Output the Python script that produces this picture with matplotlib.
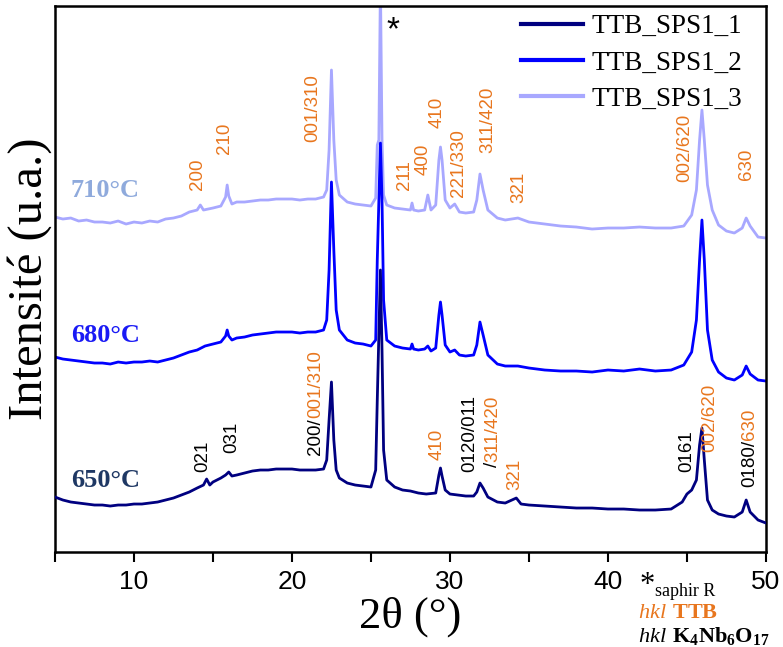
import matplotlib
matplotlib.use('Agg')
import matplotlib.pyplot as plt

# XRD patterns, 2theta (deg) and intensity (a.u.)
tt_650 = [5.0, 5.5, 6.0, 6.5, 7.0, 7.5, 8.0, 8.5, 9.0, 9.5,
          10.0, 10.5, 11.0, 11.5, 12.0, 12.5, 13.0, 13.5, 14.0, 14.4,
          14.6, 14.8, 15.0, 15.5, 15.8, 16.0, 16.2, 16.5, 17.0, 17.5,
          18.0, 18.5, 19.0, 19.5, 20.0, 20.5, 21.0, 21.5, 22.0, 22.2,
          22.35, 22.5, 22.65, 22.8, 23.0, 23.5, 24.0, 24.5, 25.0, 25.3,
          25.4, 25.6, 25.7, 25.8, 26.0, 26.5, 27.0, 27.5, 28.0, 28.5,
          29.1, 29.3, 29.4, 29.5, 29.7, 30.0, 30.5, 31.0, 31.5, 31.7,
          31.9, 32.1, 32.4, 33.0, 33.5, 34.2, 34.5, 35.0, 36.0, 37.0,
          38.0, 39.0, 40.0, 41.0, 42.0, 43.0, 44.0, 44.7, 45.0, 45.3,
          45.6, 45.8, 45.95, 46.1, 46.3, 46.6, 47.0, 47.5, 48.0, 48.5,
          48.75, 49.0, 49.5, 50.0]
i_650 = [55, 52, 50, 49, 48, 47, 47, 46, 47, 47,
         48, 48, 49, 50, 52, 54, 57, 60, 64, 67,
         73, 67, 70, 74, 77, 80, 76, 77, 79, 81,
         82, 82, 83, 83, 83, 82, 82, 82, 83, 92,
         132, 170, 112, 82, 74, 69, 67, 66, 65, 82,
         152, 282, 202, 102, 72, 65, 62, 61, 59, 58,
         59, 77, 84, 76, 62, 58, 57, 56, 56, 60,
         69, 64, 55, 50, 49, 54, 48, 47, 46, 45,
         44, 44, 43, 43, 42, 42, 43, 50, 58, 62,
         72, 107, 124, 92, 52, 42, 38, 36, 35, 40,
         52, 40, 32, 29]

tt_680 = [5.0, 5.5, 6.0, 6.5, 7.0, 7.5, 8.0, 8.5, 9.0, 9.5,
          10.0, 10.5, 11.0, 11.5, 12.0, 12.5, 13.0, 13.5, 14.0, 14.5,
          15.0, 15.5, 15.8, 15.9, 16.0, 16.2, 16.5, 17.0, 17.5, 18.0,
          18.5, 19.0, 19.5, 20.0, 20.5, 21.0, 21.5, 22.0, 22.2, 22.35,
          22.5, 22.65, 22.8, 23.0, 23.5, 24.0, 24.5, 25.0, 25.3, 25.4,
          25.6, 25.7, 25.8, 26.0, 26.5, 27.0, 27.5, 27.6, 27.7, 28.0,
          28.4, 28.6, 28.8, 29.1, 29.3, 29.4, 29.5, 29.7, 30.0, 30.3,
          30.6, 31.0, 31.5, 31.7, 31.9, 32.1, 32.4, 33.0, 33.5, 34.3,
          35.0, 36.0, 37.0, 38.0, 39.0, 40.0, 41.0, 42.0, 43.0, 44.0,
          44.8, 45.3, 45.6, 45.8, 45.95, 46.1, 46.3, 46.6, 47.0, 47.5,
          48.0, 48.5, 48.75, 49.0, 49.5, 50.0]
i_680 = [195, 193, 192, 191, 190, 189, 189, 188, 190, 189,
         190, 190, 191, 190, 192, 194, 197, 200, 202, 206,
         208, 210, 216, 222, 216, 212, 214, 215, 217, 218,
         219, 220, 220, 220, 219, 220, 220, 222, 232, 282,
         370, 302, 242, 222, 212, 209, 208, 206, 212, 292,
         409, 352, 252, 212, 206, 204, 203, 208, 203, 202,
         203, 206, 201, 204, 237, 250, 237, 207, 200, 202,
         197, 196, 197, 207, 230, 217, 197, 188, 186, 186,
         184, 182, 181, 181, 180, 182, 181, 183, 181, 182,
         187, 200, 232, 292, 332, 292, 222, 192, 180, 174,
         172, 177, 186, 178, 172, 171]

tt_710 = [5.0, 5.5, 6.0, 6.5, 7.0, 7.5, 8.0, 8.5, 9.0, 9.5,
          10.0, 10.5, 11.0, 11.5, 12.0, 12.5, 13.0, 13.5, 14.0, 14.2,
          14.4, 15.0, 15.5, 15.8, 15.9, 16.0, 16.2, 16.5, 17.0, 17.5,
          18.0, 18.5, 19.0, 19.5, 20.0, 20.5, 21.0, 21.5, 22.0, 22.2,
          22.35, 22.5, 22.65, 22.8, 23.0, 23.5, 24.0, 24.5, 25.0, 25.3,
          25.4, 25.5, 25.6, 25.7, 25.8, 26.0, 26.5, 27.0, 27.5, 27.6,
          27.7, 28.0, 28.4, 28.6, 28.8, 29.1, 29.3, 29.4, 29.5, 29.7,
          30.0, 30.3, 30.6, 31.0, 31.5, 31.7, 31.9, 32.1, 32.4, 33.0,
          33.5, 34.3, 35.0, 36.0, 37.0, 38.0, 39.0, 40.0, 41.0, 42.0,
          43.0, 44.0, 44.8, 45.3, 45.6, 45.8, 45.95, 46.1, 46.3, 46.6,
          47.0, 47.5, 48.0, 48.5, 48.75, 49.0, 49.5, 50.0]
i_710 = [335, 333, 334, 331, 332, 330, 330, 329, 331, 328,
         330, 329, 331, 330, 333, 334, 336, 340, 342, 347,
         342, 344, 346, 355, 367, 356, 348, 350, 350, 351,
         352, 352, 353, 353, 353, 352, 353, 353, 355, 362,
         402, 482, 412, 372, 357, 350, 348, 347, 346, 354,
         407, 412, 570, 412, 357, 347, 344, 343, 342, 349,
         342, 341, 342, 357, 342, 347, 392, 405, 392, 352,
         344, 348, 340, 339, 340, 352, 378, 362, 342, 334,
         332, 334, 330, 328, 326, 325, 323, 324, 324, 325,
         324, 324, 326, 337, 362, 412, 442, 412, 367, 342,
         327, 321, 319, 324, 334, 326, 315, 314]

series_names = ['TTB_SPS1_1', 'TTB_SPS1_2', 'TTB_SPS1_3']
temp_labels = ['650°C', '680°C', '710°C']

# peak labels: (2theta, intensity, [(text, phase), ...]) ; phase 'T' = TTB, 'K' = K4Nb6O17
peaks_710 = [(14.05, 362, [('200', 'T')]), (15.76, 398, [('210', 'T')]),
             (21.33, 410, [('001/310', 'T')]), (27.15, 362, [('211', 'T')]),
             (28.3, 377, [('400', 'T')]), (29.2, 424, [('410', 'T')]),
             (30.57, 355, [('221/330', 'T')]), (32.4, 399, [('311/420', 'T')]),
             (34.37, 349, [('321', 'T')]), (44.87, 370, [('002/620', 'T')]),
             (48.8, 372, [('630', 'T')])]
peaks_650 = [(14.37, 80, [('021', 'K')]), (16.2, 99, [('031', 'K')]),
             (21.5, 97, [('200/', 'K'), ('001/310', 'T')]),
             (29.2, 92, [('410', 'T')]), (31.27, 80, [('0120/011', 'K')]),
             (32.7, 85, [('/', 'K'), ('311/420', 'T')]), (34.1, 62, [('321', 'T')]),
             (45.0, 80, [('0161', 'K')]), (46.45, 100, [('002/620', 'T')]),
             (48.99, 65, [('0180/', 'K'), ('630', 'T')])]

orange = '#E8761E'
phase_color = {'T': orange, 'K': 'black'}
line_colors = ['#000080', '#0000FF', '#A8A8FF']
temp_colors = ['#1F3864', '#1A1AF5', '#8FAADC']

plt.rcParams['mathtext.fontset'] = 'custom'
plt.rcParams['mathtext.rm'] = 'Liberation Serif'
plt.rcParams['mathtext.it'] = 'Liberation Serif:italic'
plt.rcParams['mathtext.bf'] = 'Liberation Serif:bold'

fig = plt.figure(figsize=(7.83, 6.47), dpi=100)
ax = fig.add_axes([0.0702, 0.1468, 0.908, 0.8439])

lines = []
for k, (tt, ii) in enumerate([(tt_650, i_650), (tt_680, i_680), (tt_710, i_710)]):
    ln, = ax.plot(tt, ii, color=line_colors[k], lw=2.0, label=series_names[k], zorder=3 - k)
    lines.append(ln)

ax.set_xlim(5, 50)
ax.set_ylim(0, 546)
ax.set_yticks([])
ax.set_xticks([10, 20, 30, 40, 50])
ax.set_xticks([5, 15, 25, 35, 45], minor=True)
ax.tick_params(axis='x', which='both', direction='out', length=7, width=1.5, pad=6)
ax.tick_params(axis='x', labelsize=19)
for lab in ax.get_xticklabels():
    lab.set_family('Liberation Sans')
for sp in ax.spines.values():
    sp.set_linewidth(1.8)

ax.set_xlabel('2θ (°)', fontsize=32, family='Liberation Serif', labelpad=2)
ax.set_ylabel('Intensité (u.a.)', fontsize=35, family='Liberation Serif')
ax.yaxis.set_label_coords(-0.004, 0.5)

leg = ax.legend(handles=lines, loc='upper right', bbox_to_anchor=(0.978, 1.0), frameon=False,
                prop={'family': 'Liberation Serif', 'size': 19.5}, handlelength=2.3,
                handletextpad=0.3, labelspacing=0.42, borderaxespad=0.15, borderpad=0.15)
for h in leg.legend_handles:
    h.set_linewidth(3)

# temperature labels
temp_pos = [(6.0, 72), (6.0, 217), (6.0, 362)]
for k, (x, y) in enumerate(temp_pos):
    ax.text(x, y, temp_labels[k], color=temp_colors[k], fontsize=19, fontweight='bold',
            family='Liberation Serif', va='center', ha='left')

ax.text(26.4, 521, '*', fontsize=24, ha='center', va='center', family='Liberation Sans')

renderer = fig.canvas.get_renderer()


def hkl_label(x, y, parts):
    offset = 0
    for text, phase in parts:
        t = ax.annotate(text, (x, y), xytext=(0, offset), textcoords='offset points',
                        rotation=90, ha='center', va='bottom', color=phase_color[phase],
                        fontsize=13.5, family='Liberation Sans')
        bb = t.get_window_extent(renderer)
        offset += bb.height * 72 / fig.dpi


for x, y, parts in peaks_710 + peaks_650:
    hkl_label(x, y, parts)

# key at the bottom right
fig.text(640 / 783, 1 - 586 / 647, '*', fontsize=22, family='Liberation Serif', ha='left', va='center')
fig.text(655 / 783, 1 - 592 / 647, 'saphir R', fontsize=13, family='Liberation Serif', ha='left', va='center')
fig.text(638 / 783, 1 - 612 / 647, r'$\mathit{hkl}$ $\mathbf{TTB}$', color=orange, fontsize=16,
         ha='left', va='center')
fig.text(638 / 783, 1 - 636 / 647, r'$\mathit{hkl}$ $\mathbf{K_4Nb_6O_{17}}$', color='black', fontsize=16,
         ha='left', va='center')

fig.savefig('out.png', dpi=100)
